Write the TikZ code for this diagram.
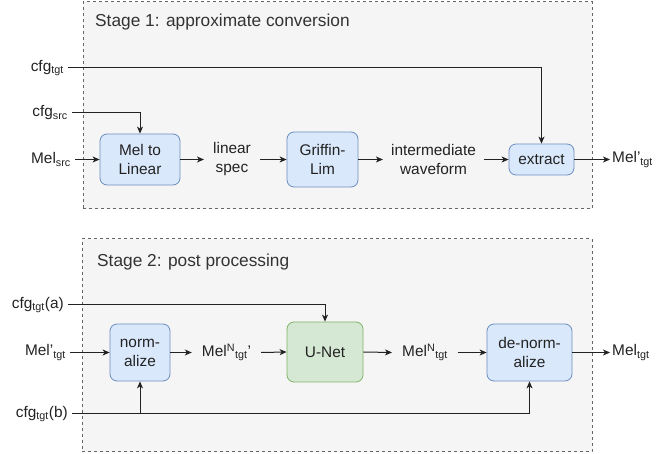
\documentclass[tikz,border=0pt]{standalone}
\usepackage{fontspec}
\setmainfont{Liberation Sans}
\usetikzlibrary{arrows.meta}
\definecolor{grpfill}{HTML}{F5F5F5}
\definecolor{grpline}{HTML}{666666}
\definecolor{bluefill}{HTML}{DAE8FC}
\definecolor{blueline}{HTML}{6C8EBF}
\definecolor{greenfill}{HTML}{D5E8D4}
\definecolor{greenline}{HTML}{82B366}
\definecolor{ink}{HTML}{222222}
\definecolor{titleink}{HTML}{333333}

\begin{document}
\begin{tikzpicture}[x=1pt,y=-1pt,
  font=\fontsize{15.4}{19}\selectfont, text=ink,
  stagebox/.style={draw=grpline, fill=grpfill, line width=1pt,
    dash pattern=on 3pt off 3pt, inner sep=0pt, outer sep=0pt},
  stagetitle/.style={font=\fontsize{17.3}{20}\selectfont, text=titleink,
    anchor=west, inner sep=0pt},
  proc/.style={draw=blueline, fill=bluefill, rounded corners=7pt,
    line width=0.8pt, align=center, inner sep=0pt},
  netbox/.style={proc, draw=greenline, fill=greenfill},
  midlabel/.style={align=center, inner sep=9pt},
  inlabel/.style={anchor=east, inner sep=4pt},
  outlabel/.style={anchor=west, inner sep=2pt},
  wire/.style={draw=ink, line width=1pt},
  arr/.style={wire, -{Stealth[length=7pt,width=6pt,inset=2pt]}}]

\useasboundingbox (0,0) rectangle (662,454);

% ---------- Stage 1 ----------
\node[stagebox, minimum width=509pt, minimum height=207pt] (stage1) at (337.5,105.5) {};
\node[stagetitle] (title1) at (95,22) {Stage 1: approximate conversion};

\node[proc, minimum width=80pt, minimum height=51pt] (m2l) at (140,159.5) {Mel to\\Linear};
\node[midlabel] (lspec) at (232,159.5) {linear\\spec};
\node[proc, minimum width=71pt, minimum height=55pt] (gl) at (322.5,159.5) {Griffin-\\Lim};
\node[midlabel, inner sep=8pt] (iwave) at (433.5,159.5) {intermediate\\waveform};
\node[proc, minimum width=65pt, minimum height=31pt] (ext) at (541.5,159.5) {extract};

\node[inlabel] (cfgtgt) at (68,68) {cfg\textsubscript{tgt}};
\node[inlabel] (cfgsrc) at (72,113) {cfg\textsubscript{src}};
\node[inlabel] (melsrc) at (75,159.5) {Mel\textsubscript{src}};
\node[outlabel] (melp) at (610,159.5) {Mel'\textsubscript{tgt}};

\draw[arr] (cfgtgt.east) -| (ext.north);
\draw[arr] (cfgsrc.east) -| (m2l.north);
\draw[arr] (melsrc.east) -- (m2l.west);
\draw[arr] (m2l.east) -- (lspec.west);
\draw[arr] (lspec.east) -- (gl.west);
\draw[arr] (gl.east) -- (iwave.west);
\draw[arr] (iwave.east) -- (ext.west);
\draw[arr] (ext.east) -- (melp.west);

% ---------- Stage 2 ----------
\node[stagebox, minimum width=510pt, minimum height=213pt] (stage2) at (337,345.5) {};
\node[stagetitle] (title2) at (97,262) {Stage 2: post processing};

\node[proc, minimum width=60pt, minimum height=57pt] (norm) at (140,352.5) {norm-\\alize};
\node[midlabel, inner sep=10pt] (mnp) at (226.5,352.5) {Mel\textsuperscript{N}\textsubscript{tgt}'};
\node[netbox, minimum width=76pt, minimum height=60pt] (unet) at (325,352) {U-Net};
\node[midlabel, inner sep=10pt] (mn) at (425,352.5) {Mel\textsuperscript{N}\textsubscript{tgt}};
\node[proc, minimum width=85pt, minimum height=57pt] (denorm) at (529.5,352.5) {de-norm-\\alize};

\node[inlabel] (cfga) at (68,305) {cfg\textsubscript{tgt}(a)};
\node[inlabel] (melin) at (70,352.5) {Mel'\textsubscript{tgt}};
\node[inlabel] (cfgb) at (72,414) {cfg\textsubscript{tgt}(b)};
\node[outlabel] (meltgt) at (610,352.5) {Mel\textsubscript{tgt}};

\draw[arr] (cfga.east) -| (unet.north);
\draw[arr] (melin.east) -- (norm.west);
\draw[arr] (norm.east) -- (mnp.west);
\draw[arr] (mnp.east) -- (unet.west);
\draw[arr] (unet.east) -- (mn.west);
\draw[arr] (mn.east) -- (denorm.west);
\draw[arr] (denorm.east) -- (meltgt.west);
\draw[arr] (cfgb.east) -| (denorm.south);
\draw[arr] (norm.south |- cfgb.east) -- (norm.south);
\end{tikzpicture}
\end{document}
